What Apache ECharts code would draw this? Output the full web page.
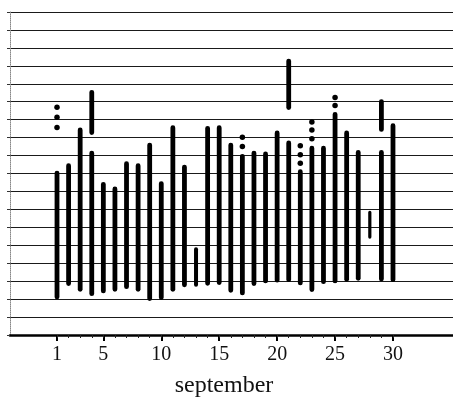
<!DOCTYPE html>
<html>
<head>
<meta charset="utf-8">
<script src="https://cdn.jsdelivr.net/npm/echarts@6/dist/echarts.min.js"></script>
<style>html,body{margin:0;padding:0;background:#fff;}#c{width:453px;height:406px;}</style>
</head>
<body>
<div id="c"></div>
<script>
// Days of September
const days = [1,2,3,4,5,6,7,8,9,10,11,12,13,14,15,16,17,18,19,20,21,22,23,24,25,26,27,28,29,30];
// Main bar: lower and upper ends
const barLow  = [1.99,2.73,2.41,2.17,2.32,2.41,2.56,2.41,1.90,1.95,2.41,2.66,2.69,2.75,2.79,2.36,2.21,2.73,2.88,2.92,2.95,2.77,2.40,2.84,2.88,2.97,3.03,5.37,2.99,2.95];
const barHigh = [9.16,9.57,11.56,10.27,8.53,8.27,9.68,9.57,10.72,8.57,11.69,9.49,4.89,11.65,11.69,10.72,10.09,10.27,10.22,11.39,10.84,9.23,10.54,10.54,12.43,11.39,10.31,6.93,10.31,11.80];
// Detached upper segments
const segDays = [4, 21, 29];
const segLow  = [11.15, 12.54, 11.32];
const segHigh = [13.66, 15.40, 13.14];
// Dotted readings
const dotDays   = [1,1,1, 17,17, 22,22,22, 23,23,23, 25,25];
const dotValues = [12.69,12.13,11.56, 11.02,10.50, 10.54,10.05,9.57, 11.87,11.43,10.94, 13.24,12.79];
// Axis labels
const xLabels = [1,5,10,15,20,25,30];
const xTitle = 'september';

const chart = echarts.init(document.getElementById('c'), null, {renderer:'canvas'});

function renderBar(params, api) {
  const x = api.value(0), lo = api.value(1), hi = api.value(2);
  const p1 = api.coord([x, hi]);
  const p2 = api.coord([x, lo]);
  const w = (x === 28) ? 3.2 : (x === 13 ? 4 : 4.8);
  return {
    type: 'rect',
    shape: {x: p1[0] - w/2, y: p1[1], width: w, height: p2[1] - p1[1], r: w/2},
    style: {fill: '#000'}
  };
}

const serif = '"Liberation Serif", "DejaVu Serif", serif';

chart.setOption({
  animation: false,
  backgroundColor: '#fff',
  grid: {left: 10, right: 0, top: 12, bottom: 71, containLabel: false},
  xAxis: [{
    type: 'value', min: -3.057, max: 35.18,
    axisLine: {show: true, onZero: false, lineStyle: {color: '#000', width: 2.6}},
    axisTick: {show: true, customValues: xLabels, length: 6, lineStyle: {color: '#000', width: 2}},
    axisLabel: {show: true, customValues: xLabels, margin: 10, fontFamily: serif, fontSize: 20, color: '#111'},
    splitLine: {show: false}
  }, {
    type: 'value', min: -3.057, max: 35.18, position: 'bottom',
    axisLine: {show: false, onZero: false},
    axisTick: {show: true, customValues: days, length: 3, lineStyle: {color: '#222', width: 1}},
    axisLabel: {show: false},
    splitLine: {show: false}
  }],
  yAxis: {
    type: 'value', min: 0, max: 18, interval: 1,
    axisLine: {show: true, onZero: false, lineStyle: {color: '#888', width: 1, type: 'dotted'}},
    axisTick: {show: true, length: 3, lineStyle: {color: '#333', width: 1}},
    axisLabel: {show: false},
    splitLine: {show: true, lineStyle: {color: '#1a1a1a', width: 1.2}}
  },
  graphic: [{
    type: 'text', x: 224, y: 386,
    style: {text: xTitle, font: '24px ' + serif, fill: '#111', align: 'center', verticalAlign: 'middle', textAlign: 'center', textVerticalAlign: 'middle'}
  }],
  series: [{
    type: 'custom',
    renderItem: renderBar,
    encode: {x: 0, y: [1, 2]},
    data: days.map((d, i) => [d, barLow[i], barHigh[i]]),
    z: 5
  }, {
    type: 'custom',
    renderItem: renderBar,
    encode: {x: 0, y: [1, 2]},
    data: segDays.map((d, i) => [d, segLow[i], segHigh[i]]),
    z: 5
  }, {
    type: 'scatter',
    symbol: 'circle',
    symbolSize: 5.5,
    itemStyle: {color: '#000', opacity: 1},
    data: dotDays.map((d, i) => [d, dotValues[i]]),
    z: 6
  }]
});
</script>
</body>
</html>
